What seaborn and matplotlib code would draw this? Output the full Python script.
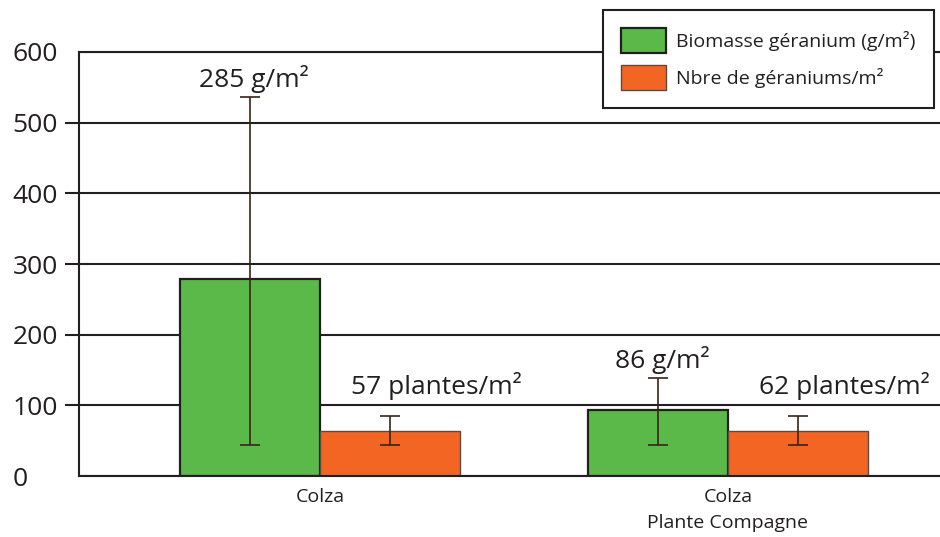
import matplotlib
matplotlib.use("Agg")
import matplotlib.pyplot as plt
import seaborn as sns
import pandas as pd
from matplotlib.patches import Patch

# ---- data ----
categories = ["Colza", "Colza\nPlante Compagne"]
series_names = ["Biomasse géranium (g/m²)", "Nbre de géraniums/m²"]
biomasse = [279, 93]
nbre = [64, 64]
biomasse_low = [44, 44]
biomasse_high = [536, 139]
nbre_low = [44, 44]
nbre_high = [85, 85]
biomasse_labels = ["285 g/m²", "86 g/m²"]
nbre_labels = ["57 plantes/m²", "62 plantes/m²"]
yticks = [0, 100, 200, 300, 400, 500, 600]

GREEN = "#5bb94a"
ORANGE = "#f26522"
DARK = "#231f20"

sns.set_style("white")
plt.rcParams["font.family"] = ["Open Sans", "DejaVu Sans"]

df = pd.DataFrame({
    "cat": categories * 2,
    "val": biomasse + nbre,
    "serie": [series_names[0]] * 2 + [series_names[1]] * 2,
})

fig = plt.figure(figsize=(9.4, 5.37), dpi=100)
ax = fig.add_axes([79 / 940, 61 / 537, 1 - 79 / 940, 424 / 537])

sns.barplot(data=df, x="cat", y="val", hue="serie", order=categories,
            hue_order=series_names, palette=[GREEN, ORANGE], width=0.686,
            errorbar=None, legend=False, saturation=1, ax=ax, zorder=2)

# bar edges
for bar in ax.containers[0]:
    bar.set_edgecolor(DARK)
    bar.set_linewidth(1.6)
for bar in ax.containers[1]:
    bar.set_edgecolor("#5a4a42")
    bar.set_linewidth(1.0)

# error bars + labels
for cont, vals, lows, highs, labs, dx, dy in [
    (ax.containers[0], biomasse, biomasse_low, biomasse_high, biomasse_labels, 0.01, 14),
    (ax.containers[1], nbre, nbre_low, nbre_high, nbre_labels, 0.113, 31),
]:
    for bar, v, lo, hi, lab in zip(cont, vals, lows, highs, labs):
        xc = bar.get_x() + bar.get_width() / 2
        ax.errorbar([xc], [v], yerr=[[v - lo], [hi - v]], fmt="none",
                    ecolor="#3b2417", elinewidth=1.2, capsize=7.5,
                    capthick=1.2, zorder=3)
        ax.text(xc + dx, hi + dy, lab, ha="center", va="baseline",
                fontsize=19, color=DARK, zorder=4)

ax.set_xlim(-0.591, 1.52)
ax.set_ylim(0, 600)
ax.set_yticks(yticks)
ax.set_yticklabels([str(t) for t in yticks])
ax.yaxis.grid(True, color=DARK, linewidth=1.5)
ax.set_axisbelow(True)
ax.tick_params(axis="y", length=10, width=1.5, color=DARK, pad=38,
               labelsize=19, labelcolor=DARK, left=True)
for lbl in ax.get_yticklabels():
    lbl.set_horizontalalignment("left")
ticks = ax.yaxis.get_major_ticks()
ticks[0].tick1line.set_visible(False)
ticks[-1].tick1line.set_visible(False)
ax.tick_params(axis="x", length=0, pad=9, labelsize=14, labelcolor=DARK)
for lbl in ax.get_xticklabels():
    lbl.set_linespacing(1.5)
ax.set_xlabel("")
ax.set_ylabel("")

for side in ["left", "bottom", "top"]:
    ax.spines[side].set_visible(True)
    ax.spines[side].set_color(DARK)
    ax.spines[side].set_linewidth(1.5)
ax.spines["right"].set_visible(False)

handles = [Patch(facecolor=GREEN, edgecolor=DARK, linewidth=1.6),
           Patch(facecolor=ORANGE, edgecolor="#5a4a42", linewidth=1.0)]
leg = ax.legend(handles, series_names, loc="upper left",
                bbox_to_anchor=(603 / 940, 1 - 10 / 537),
                bbox_transform=fig.transFigure, fontsize=14,
                frameon=True, fancybox=False, framealpha=1,
                edgecolor=DARK, handlelength=2.3, handleheight=1.55,
                handletextpad=0.5, labelspacing=0.65, borderpad=0.95,
                borderaxespad=0)
leg.get_frame().set_linewidth(1.5)
leg.set_zorder(10)
for t in leg.get_texts():
    t.set_color(DARK)

fig.savefig("out.png", dpi=100)
